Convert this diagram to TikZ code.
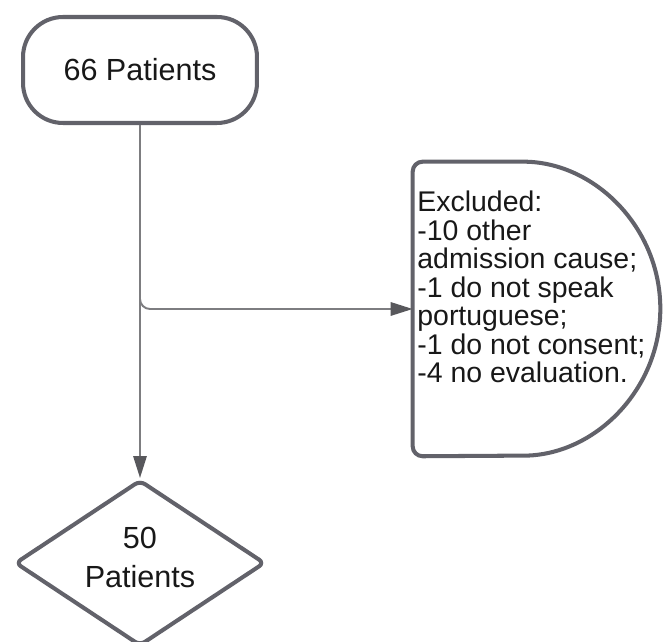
\documentclass[tikz,border=0pt]{standalone}
\usepackage{fontspec}
\setmainfont{Liberation Sans}
\usetikzlibrary{calc,shapes.geometric,arrows.meta}
\definecolor{edgegray}{RGB}{98,98,106}
\definecolor{linegray}{RGB}{125,125,128}
\definecolor{tipgray}{RGB}{88,88,92}
\definecolor{textgray}{RGB}{24,24,24}

\begin{document}
\begin{tikzpicture}[
        x=0.02cm, y=0.02cm,
        every node/.style={font=\fontsize{17.4pt}{20pt}\selectfont, text=textgray},
        startbox/.style={
            draw=edgegray,
            line width=2.3pt,
            rounded corners=0.8cm,
            minimum width=4.68cm,
            minimum height=2.12cm,
            inner sep=0pt
        },
        resultbox/.style={
            diamond,
            draw=edgegray,
            line width=2.3pt,
            rounded corners=0.12cm,
            aspect=1.5,
            minimum width=5cm,
            minimum height=3.32cm,
            inner sep=0pt,
            text depth=0.24cm,
            align=center,
            font=\fontsize{17.4pt}{22.2pt}\selectfont
        },
        excludebox/.style={
            minimum width=4.94cm,
            minimum height=5.88cm,
            inner sep=0pt
        },
        outline/.style={draw=edgegray, line width=2.3pt},
        arrow/.style={-{Triangle[length=12.5pt,width=7.6pt,color=tipgray]}, draw=linegray, line width=1.1pt}
    ]

    \useasboundingbox (0,0) rectangle (664,642);

    % =========================
    % Enrolled and analysed
    % =========================
    \node[startbox] (start) at (140,572) {66 Patients};
    \node[resultbox] (final) at (140,79) {50\\Patients};

    % =========================
    % Exclusions
    % =========================
    \node[excludebox] (excl) at (536.5,333) {};
    \draw[outline, rounded corners=0.2cm] (excl.west) -- (excl.north west)
        -- ($(excl.north east)+(-147,0)$)
        arc[start angle=90, end angle=-90, radius=147]
        -- (excl.south west) -- cycle;
    \node[anchor=north west, inner sep=0pt, align=left,
          font=\fontsize{16.2pt}{16.2pt}\selectfont] (excltxt) at (417,451)
        {Excluded:\\-10 other\\admission cause;\\-1 do not speak\\portuguese;\\-1 do not consent;\\-4 no evaluation.};

    % Connectors
    \draw[arrow] (start.south) -- (final.north);
    \draw[arrow, rounded corners=0.2cm] (start.south) |- (excl.west);

\end{tikzpicture}
\end{document}
